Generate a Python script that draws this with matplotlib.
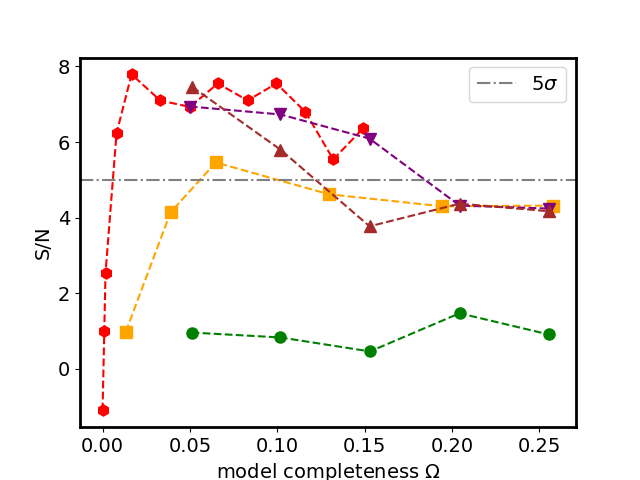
import matplotlib
matplotlib.use('Agg')
import matplotlib.pyplot as plt

plt.rcParams['font.size'] = 14

# red hexagons
omega_red = [0.0, 0.001, 0.0017, 0.008, 0.0166, 0.033, 0.050, 0.066, 0.083, 0.0995, 0.116, 0.132, 0.149]
sn_red = [-1.10, 1.00, 2.54, 6.23, 7.79, 7.10, 6.93, 7.55, 7.10, 7.55, 6.80, 5.54, 6.36]

# orange squares
omega_orange = [0.0133, 0.0389, 0.0648, 0.1294, 0.1942, 0.258]
sn_orange = [0.98, 4.14, 5.46, 4.62, 4.30, 4.32]

# green circles
omega_green = [0.051, 0.1018, 0.153, 0.2043, 0.2552]
sn_green = [0.96, 0.83, 0.46, 1.47, 0.91]

# purple down triangles
omega_purple = [0.050, 0.1018, 0.1528, 0.2043, 0.2552]
sn_purple = [6.94, 6.73, 6.09, 4.32, 4.24]

# brown up triangles
omega_brown = [0.0513, 0.1018, 0.1528, 0.2043, 0.2552]
sn_brown = [7.46, 5.80, 3.77, 4.37, 4.17]

fig, ax = plt.subplots(figsize=(6.4, 4.8), dpi=100)

ax.plot(omega_red, sn_red, 'h--', color='red', markersize=8)
ax.plot(omega_orange, sn_orange, 's--', color='orange', markersize=8)
ax.plot(omega_green, sn_green, 'o--', color='green', markersize=8)
ax.plot(omega_purple, sn_purple, 'v--', color='purple', markersize=8)
ax.plot(omega_brown, sn_brown, '^--', color='brown', markersize=8)

ax.axhline(5, color='gray', linestyle='-.', label=r'$5\sigma$')

for s in ax.spines.values():
    s.set_linewidth(2)

ax.set_xlabel(r'model completeness $\Omega$')
ax.set_ylabel('S/N')
ax.legend(loc='upper right')

plt.savefig('out.png')
